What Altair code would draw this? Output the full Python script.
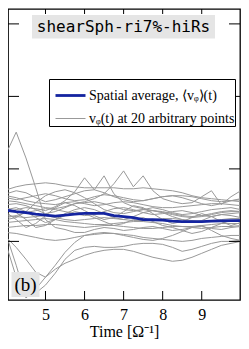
import altair as alt
import pandas as pd

# time grid (Omega^-1)
t = [4.0, 4.25, 4.5, 4.75, 5.0, 5.25, 5.5, 5.75, 6.0, 6.25, 6.5, 6.75, 7.0,
     7.25, 7.5, 7.75, 8.0, 8.25, 8.5, 8.75, 9.0, 9.25, 9.5, 9.75, 10.0]

# spatial average (arbitrary units)
avg = [31.3, 30, 29, 27.5, 26.5, 25.5, 26.5, 27.5, 28.3, 28.3, 28.3, 26, 25,
       24, 22, 21.8, 21.5, 20.5, 20, 20, 20, 20.5, 20.7, 21, 21]

# 20 arbitrary points
p01 = [89, 110, 84, 54, 22, 14, 12, 9, 9, 12, 14, 13, 11, 12, 14, 15, 13, 11, 12, 14, 15, 13, 12, 14, 15]
p02 = [52, 55, 57, 58, 59, 58, 56, 55, 54, 54, 54, 54, 53, 53, 54, 53, 52, 51, 49, 46, 44, 43, 42, 41, 40]
p03 = [30, 32, 34, 33, 31, 35, 41, 50, 64, 52, 66, 48, 39, 35, 33, 31, 30, 28, 26, 25, 26, 28, 30, 31, 30]
p04 = [41, 40, 38, 36, 34, 33, 35, 38, 40, 43, 48, 58, 71, 55, 66, 51, 43, 40, 38, 39, 45, 51, 37, 45, 51]
p05 = [46, 44, 41, 39, 38, 37, 39, 40, 38, 36, 37, 39, 40, 39, 37, 35, 34, 34, 35, 36, 37, 38, 38, 37, 36]
p06 = [37, 38, 36, 32, 28, 30, 34, 38, 39, 40, 38, 35, 32, 31, 32, 34, 32, 29, 27, 28, 30, 32, 33, 34, 32]
p07 = [24, 26, 29, 31, 33, 32, 30, 28, 26, 27, 30, 33, 34, 32, 29, 27, 28, 30, 31, 29, 26, 25, 27, 28, 29]
p08 = [19, 20, 21, 22, 23, 22, 20, 19, 18, 17, 17, 18, 19, 20, 20, 19, 18, 16, 15, 15, 16, 17, 18, 18, 18]
p09 = [14, 15, 16, 16, 17, 17, 16, 15, 14, 15, 16, 16, 15, 14, 13, 13, 14, 15, 15, 14, 13, 14, 15, 15, 16]
p10 = [29, 22, 14, 18, 26, 34, 39, 36, 31, 26, 22, 24, 30, 36, 34, 28, 22, 18, 20, 24, 28, 25, 20, 16, 19]
p11 = [34, 29, 22, 14, 16, 22, 26, 30, 28, 24, 20, 16, 18, 22, 24, 20, 16, 14, 11, 8, 10, 14, 18, 21, 22]
p12 = [6, -24, -57, -48, -36, -28, -22, -18, -14, -11, -9, -8, -8, -10, -13, -16, -18, -20, -19, -16, -12, -8, -4, -2, 0]
p13 = [-4, -36, -56, -52, -44, -32, -18, -9, -6, -5, -6, -6, -5, -3, -2, -2, -3, -6, -10, -8, -5, -2, 0, 0, 1]
p14 = [4, -6, -18, -31, -36, -24, -11, -1, 6, 8, 9, 8, 6, 4, 2, 1, 3, 6, 10, 14, 16, 11, 6, 3, 1]
p15 = [9, 8, 6, 4, 2, 1, 2, 4, 6, 7, 8, 8, 7, 6, 4, 3, 2, 1, 0, 1, 3, 4, 5, 6, 6]
p16 = [26, 25, 24, 25, 26, 24, 22, 21, 22, 23, 24, 23, 22, 21, 21, 22, 23, 23, 22, 21, 20, 21, 22, 23, 23]
p17 = [44, 42, 44, 46, 48, 46, 43, 41, 42, 45, 47, 46, 44, 42, 41, 43, 45, 46, 46, 45, 43, 41, 40, 41, 42]
p18 = [32, 34, 30, 24, 19, 22, 28, 32, 34, 32, 28, 24, 22, 25, 29, 31, 29, 25, 22, 19, 21, 25, 27, 26, 24]
p19 = [48, 51, 49, 44, 40, 42, 45, 48, 51, 52, 49, 45, 42, 40, 41, 43, 45, 46, 44, 41, 38, 36, 38, 41, 43]
p20 = [22, 24, 30, 39, 46, 50, 52, 49, 44, 38, 32, 29, 28, 30, 32, 31, 29, 27, 25, 24, 25, 27, 29, 30, 30]

x_ticks = [5, 6, 7, 8, 9]
y_ticks = [0, 73, 146, 219]

label_avg = "Spatial average, \u27e8v\u1d69\u27e9(t)"
label_pts = "v\u1d69(t) at 20 arbitrary points"
run_name = "shearSph-ri7%-hiRs"
panel = "(b)"

points = [p01, p02, p03, p04, p05, p06, p07, p08, p09, p10,
          p11, p12, p13, p14, p15, p16, p17, p18, p19, p20]
rows = []
for i, series in enumerate(points):
    for tt, vv in zip(t, series):
        rows.append({"t": tt, "v": vv, "kind": label_pts, "id": i})
df_pts = pd.DataFrame(rows)
df_avg = pd.DataFrame({"t": t, "v": avg, "kind": label_avg, "id": 99})

W, H = 232, 291
SERIF = "'Liberation Serif', 'Times New Roman', Times, serif"
MONO = "'DejaVu Sans Mono', monospace"

xscale = alt.Scale(domain=[4.04, 9.98], nice=False, zero=False)
yscale = alt.Scale(domain=[-59, 234], nice=False, zero=False)
xaxis = alt.Axis(values=x_ticks, format="d", ticks=False, domain=False, grid=False,
                 labelFont=SERIF, labelFontSize=16, labelColor="black", labelPadding=6,
                 title="Time [\u03a9\u207b\u00b9]", titleFont=SERIF, titleFontSize=16,
                 titleFontWeight="normal", titleColor="black", titlePadding=1)
X = alt.X("t:Q", scale=xscale, axis=xaxis)
Y = alt.Y("v:Q", scale=yscale, axis=None)

def make_legend():
    return alt.Legend(title=None, orient="none", legendX=41, legendY=70,
                      symbolType="stroke", symbolSize=900, symbolOffset=5,
                      labelFont=SERIF, labelFontSize=14, labelColor="black",
                      labelLimit=0, padding=0, rowPadding=-12.5, labelOffset=2,
                      strokeColor="black", fillColor="white", cornerRadius=0)

color = alt.Color("kind:N",
                  scale=alt.Scale(domain=[label_avg, label_pts], range=["#1424a0", "#999999"]),
                  legend=make_legend())
sw = alt.StrokeWidth("kind:N",
                     scale=alt.Scale(domain=[label_avg, label_pts], range=[2.8, 1.0]),
                     legend=make_legend())

grey = alt.Chart(df_pts).mark_line(clip=True).encode(x=X, y=Y, color=color, strokeWidth=sw, detail="id:N")
blue = alt.Chart(df_avg).mark_line(clip=True).encode(x=X, y=Y, color=color, strokeWidth=sw, detail="id:N")

df_xt = pd.DataFrame({"xt": x_ticks})
df_yt = pd.DataFrame({"yt": y_ticks})
XT = alt.X("xt:Q", scale=xscale, axis=xaxis)
YT = alt.Y("yt:Q", scale=yscale, axis=None)
tick_bot = alt.Chart(df_xt).mark_rule(color="black", strokeWidth=1).encode(x=XT, y=alt.value(H), y2=alt.value(H - 9))
tick_top = alt.Chart(df_xt).mark_rule(color="black", strokeWidth=1).encode(x=XT, y=alt.value(0), y2=alt.value(5))
tick_left = alt.Chart(df_yt).mark_rule(color="black", strokeWidth=1).encode(y=YT, x=alt.value(0), x2=alt.value(11))
tick_right = alt.Chart(df_yt).mark_rule(color="black", strokeWidth=1).encode(y=YT, x=alt.value(W), x2=alt.value(W - 11))

df_title = pd.DataFrame({"label": [run_name]})
title_box = alt.Chart(df_title).mark_rect(color="#e5e5e5").encode(
    x=alt.value(24), x2=alt.value(207), y=alt.value(6), y2=alt.value(29.5))
title_txt = alt.Chart(df_title).mark_text(font=MONO, fontSize=16, color="black",
                                          baseline="middle", align="center").encode(
    x=alt.value(115.5), y=alt.value(18), text="label:N")

df_panel = pd.DataFrame({"label": [panel]})
panel_box = alt.Chart(df_panel).mark_rect(color="#e5e5e5").encode(
    x=alt.value(3.5), x2=alt.value(31.5), y=alt.value(263), y2=alt.value(288))
panel_txt = alt.Chart(df_panel).mark_text(font=SERIF, fontSize=19, color="black",
                                          baseline="middle", align="center").encode(
    x=alt.value(17.5), y=alt.value(276), text="label:N")

chart = alt.layer(grey, blue, tick_bot, tick_top, tick_left, tick_right,
                  title_box, title_txt, panel_box, panel_txt).properties(
    width=W, height=H,
    padding={"left": 0, "top": 1, "right": 1, "bottom": 41},
    autosize=alt.AutoSizeParams(type="none"),
).configure_view(stroke="black", strokeWidth=1.3)

chart.save("out.html", embed_options={"renderer": "svg", "actions": False})
